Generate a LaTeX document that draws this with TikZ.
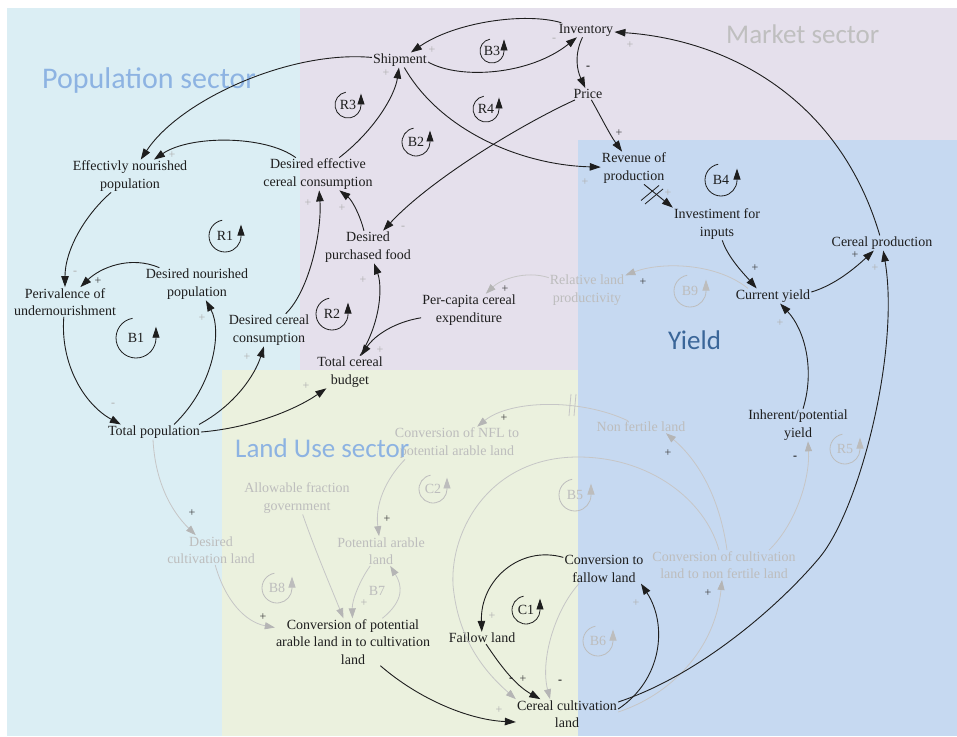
\documentclass[tikz,border=0pt]{standalone}
\usepackage{fontspec}
\setmainfont{Liberation Serif}
\newfontfamily\serifA{Liberation Serif}
\newfontfamily\calib{Carlito}
\usetikzlibrary{arrows.meta}
\definecolor{popbg}{HTML}{DBEEF4}
\definecolor{mktbg}{HTML}{E5E0EC}
\definecolor{landbg}{HTML}{EBF1DE}
\definecolor{yldbg}{HTML}{C6D9F1}
\definecolor{popt}{HTML}{8DB3E2}
\definecolor{mktt}{HTML}{BFBFBF}
\definecolor{yldt}{HTML}{3A6699}
\definecolor{ink}{HTML}{1E1E1E}
\definecolor{fade}{HTML}{BDBDBD}
\definecolor{fadeline}{HTML}{C6C6C6}
\definecolor{fadehead}{HTML}{B5B5B5}
\definecolor{signg}{HTML}{B0B0B0}
\definecolor{signk}{HTML}{3C3C3C}
\tikzset{
 var/.style={font=\serifA\fontsize{14}{17.5}\selectfont, text=ink, align=center, inner sep=1pt},
 fvar/.style={var, text=fade},
 link/.style={draw=ink, line width=0.9pt, -{Triangle[length=11pt,width=7.5pt,color=ink,fill=ink]}},
 glink/.style={draw=fadeline, line width=0.8pt, -{Triangle[length=10pt,width=7pt,color=fadehead,fill=fadehead]}},
 sect/.style={font=\calib\fontsize{27}{30}\selectfont, anchor=base west, inner sep=0pt},
 sgn/.style={font=\serifA\fontsize{12}{12}\selectfont, inner sep=0pt},
 looptext/.style={font=\serifA\fontsize{14}{14}\selectfont, inner sep=0pt},
 delaymark/.style={line width=0.8pt},
}
\newcommand{\LoopMk}[6]{%
  \node[looptext,text=#6] (#1) at (#2,#3) {#5};
  \draw[draw=#6, line width=0.8pt, -{Triangle[length=11pt,width=7pt,color=#6,fill=#6]}] ([shift={(-100:#4)}]#2,#3) arc[start angle=-100,end angle=-358,radius=#4] -- ++(0,-12);
}
\begin{document}
\begin{tikzpicture}[x=1pt,y=-1pt]
\useasboundingbox (0,0) rectangle (957,736);
\fill[white] (0,0) rectangle (957,736);
% sector backgrounds
\fill[popbg] (7,8) rectangle (300,736);
\fill[mktbg] (300,8) rectangle (957,140);
\fill[mktbg] (300,140) rectangle (578,370);
\fill[landbg] (222,370) rectangle (578,736);
\fill[yldbg] (578,140) rectangle (957,736);

% faded variables
\node[fvar] (rlp) at (587,290) {Relative land\\productivity};
\node[fvar] (nfl2pal) at (457,443) {Conversion of NFL to\\potential arable land};
\node[fvar] (nfl) at (641,427) {Non fertile land};
\node[fvar] (afg) at (297,498) {Allowable fraction\\government};
\node[fvar] (pal) at (381,551) {Potential arable\\land};
\node[fvar] (dcl) at (211,550) {Desired\\cultivation land};
\node[fvar] (ccl2nfl) at (724,565) {Conversion of cultivation\\land to non fertile land};

% sector labels
\node[sect, text=popt, font=\calib\fontsize{30}{32}\selectfont] (lpop) at (42,88) {Population sector};
\node[sect, text=mktt] (lmkt) at (726,43) {Market sector};
\node[sect, text=yldt] (lyld) at (668,349) {Yield};
\node[sect, text=popt] (lland) at (235,457) {Land Use sector};

% main variables
\node[var] (inv) at (586,30) {Inventory};
\node[var] (ship) at (400,60) {Shipment};
\node[var] (price) at (588,94) {Price};
\node[var] (rev) at (634,168) {Revenue of\\production};
\node[var] (invest) at (717,224) {Investiment for\\inputs};
\node[var] (cprod) at (882,243) {Cereal production};
\node[var] (cyield) at (773,296) {Current yield};
\node[var] (inh) at (798,425) {Inherent/potential\\yield};
\node[var] (enp) at (130,176) {Effectivly nourished\\population};
\node[var] (decc) at (318,174) {Desired effective\\cereal consumption};
\node[var] (dpf) at (368,247) {Desired\\purchased food};
\node[var] (dnp) at (197,284) {Desired nourished\\population};
\node[var] (pou) at (65,302) {Perivalence of\\undernourishment};
\node[var] (dcc) at (269,330) {Desired cereal\\consumption};
\node[var] (pcce) at (469,310) {Per-capita cereal\\expenditure};
\node[var] (tcb) at (350,372) {Total cereal\\budget};
\node[var] (tpop) at (154,432) {Total population};
\node[var] (ctf) at (604,569) {Conversion to\\fallow land};
\node[var] (fallow) at (482,638) {Fallow land};
\node[var] (cpal) at (353,642) {Conversion of potential\\arable land in to cultivation\\land};
\node[var] (ccl) at (567,714) {Cereal cultivation\\land};

% faded links
\draw[glink] ([xshift=-1pt]tpop.south) .. controls (155,480) and (170,510) .. (dcl);
\draw[glink] (dcl) .. controls (225,600) and (245,622) .. (cpal);
\draw[glink] (afg) .. controls (315,550) and (330,585) .. (cpal);
\draw[glink] (pal) .. controls (360,580) and (352,600) .. (cpal);
\draw[glink] (cpal) .. controls (405,600) and (402,585) .. (pal);
\draw[glink] ([xshift=-52pt]nfl2pal.south) .. controls (385,480) and (375,505) .. (pal);
\draw[glink] (nfl) .. controls (580,398) and (510,400) .. (nfl2pal);
\draw[draw=fadeline, delaymark] (571,394) -- (569,416);
\draw[draw=fadeline, delaymark] (576,394) -- (574,416);
\draw[glink] ([xshift=3pt]ccl2nfl.north) .. controls (720,500) and (700,462) .. ([xshift=25pt]nfl.south);
\draw[glink] ([xshift=45pt]ccl2nfl.north) .. controls (795,525) and (810,480) .. ([xshift=10pt]inh.south);
\coordinate (b5top) at (578,457);
\coordinate (b5left) at (453,585);
\draw[glink] ([xshift=-5pt]ccl2nfl.north) .. controls (705,500) and (650,457) .. (b5top)
   .. controls (490,457) and (450,530) .. (b5left) .. controls (458,640) and (485,672) .. (ccl.north west);
\draw[glink] ([yshift=2pt]ccl.east) .. controls (670,695) and (715,650) .. ([xshift=-2pt]ccl2nfl.south);
\draw[glink] ([xshift=-25pt]ctf.south) .. controls (555,610) and (540,660) .. ([xshift=-17pt]ccl.north);
\draw[glink] ([xshift=-25pt]cyield.north) .. controls (715,262) and (660,262) .. (rlp);
\draw[glink] (rlp) .. controls (525,270) and (500,280) .. (pcce);

% main links
\draw[link] (inv) .. controls (525,12) and (455,22) .. (ship);
\draw[link] ([yshift=-2pt]ship.east) .. controls (460,80) and (530,75) .. (inv);
\draw[link] (inv) .. controls (574,55) and (577,70) .. (price);
\draw[link] (cprod) .. controls (840,100) and (730,40) .. (inv);
\draw[link] (ship) .. controls (290,50) and (180,100) .. (enp);
\draw[link] (decc) .. controls (265,135) and (190,135) .. (enp);
\draw[link] (decc) .. controls (375,130) and (395,95) .. (ship);
\draw[link] (ship) .. controls (440,130) and (520,165) .. (rev);
\draw[link] (price) .. controls (600,115) and (610,135) .. (rev);
\draw[link] (price) .. controls (520,125) and (430,180) .. (dpf);
\draw[link] (dpf) .. controls (360,215) and (352,200) .. (decc);
\draw[link] (dcc) .. controls (310,290) and (322,230) .. (decc);
\draw[link] ([xshift=20pt]tpop.north) .. controls (215,385) and (222,330) .. (dnp);
\draw[link] ([xshift=45pt]tpop.north) .. controls (235,405) and (255,375) .. (dcc);
\draw[link] (tpop.east) .. controls (250,428) and (295,410) .. (tcb);
\draw[link] (dnp) .. controls (130,255) and (100,268) .. (pou);
\draw[link] (enp) .. controls (85,215) and (65,250) .. (pou);
\draw[link] (pou) .. controls (60,365) and (85,405) .. ([xshift=14pt]tpop.north west);
\draw[link] (pcce) .. controls (395,322) and (375,335) .. (tcb);
\draw[link] (tcb) .. controls (382,320) and (382,285) .. (dpf);
\draw[link] ([xshift=10pt]rev.south) -- (invest.north west);
\draw[draw=ink, delaymark] (641,200.5) -- (659,185.5);
\draw[draw=ink, delaymark] (645,204) -- (663,189);
\draw[link] (invest) .. controls (728,258) and (745,275) .. ([xshift=22pt]cyield.north west);
\draw[link] ([yshift=4pt]cyield.east) .. controls (835,285) and (855,268) .. (cprod);
\draw[link] (inh) .. controls (815,370) and (805,330) .. (cyield);
\coordinate (cpmid) at (820,557);
\draw[link] ([yshift=12pt]ccl.east) .. controls (700,675) and (780,605) .. (cpmid)
   .. controls (860,508) and (900,350) .. (cprod);
\draw[link] ([yshift=5pt]ccl.east) .. controls (662,680) and (668,625) .. ([xshift=37pt]ctf.south);
\draw[link] (ctf) .. controls (520,545) and (480,580) .. (fallow);
\draw[link] (fallow) .. controls (500,665) and (515,685) .. (ccl);
\draw[link] (cpal) .. controls (420,700) and (470,720) .. ([yshift=-8pt]ccl.west);

% polarity signs
\node[sgn,text=signg] (g1) at (172,155) {+};
\node[sgn,text=signg] (g2) at (308,203) {+};
\node[sgn,text=signg] (g3) at (342,208) {+};
\node[sgn,text=signg] (g4) at (432,50) {+};
\node[sgn,text=signg] (g5) at (386,73) {+};
\node[sgn,text=signg] (g6) at (630,45) {+};
\node[sgn,text=signg] (g7) at (585,182) {+};
\node[sgn,text=signg] (g8) at (668,193) {+};
\node[sgn,text=signg] (g9) at (202,318) {+};
\node[sgn,text=signg] (g10) at (247,357) {+};
\node[sgn,text=signg] (g11) at (306,386) {+};
\node[sgn,text=signg] (g12) at (363,280) {+};
\node[sgn,text=signg] (g13) at (380,350) {+};
\node[sgn,text=signg] (g14) at (875,268) {+};
\node[sgn,text=signg] (g15) at (780,323) {+};
\node[sgn,text=signg] (g16) at (364,603) {+};
\node[sgn,text=signg] (g17) at (499,710) {+};
\node[sgn,text=signg] (g18) at (636,603) {+};
\node[sgn,text=signg] (g19) at (492,616) {+};
\node[sgn,text=signg] (m1) at (554,40) {-};
\node[sgn,text=signg] (m2) at (75,273) {-};
\node[sgn,text=signg] (m3) at (113,405) {-};
\node[sgn,text=signg] (m4) at (403,228) {-};
\node[sgn,text=signk] (k1) at (98,281) {+};
\node[sgn,text=signk] (k2) at (619,133) {+};
\node[sgn,text=signk] (k3) at (505,289) {+};
\node[sgn,text=signk] (k4) at (504,418) {+};
\node[sgn,text=signk] (k5) at (755,268) {+};
\node[sgn,text=signk] (k6) at (643,282) {+};
\node[sgn,text=signk] (k7) at (855,255) {+};
\node[sgn,text=signk] (k8) at (668,453) {+};
\node[sgn,text=signk] (k9) at (192,513) {+};
\node[sgn,text=signk] (k10) at (263,617) {+};
\node[sgn,text=signk] (k11) at (387,519) {+};
\node[sgn,text=signk] (k12) at (523,679) {+};
\node[sgn,text=signk] (k13) at (708,593) {+};
\node[sgn,text=ink,font=\serifA\bfseries\fontsize{12}{12}\selectfont] (n1) at (588,68) {-};
\node[sgn,text=ink,font=\serifA\bfseries\fontsize{12}{12}\selectfont] (n2) at (795,458) {-};
\node[sgn,text=ink,font=\serifA\bfseries\fontsize{12}{12}\selectfont] (n3) at (511,680) {-};
\node[sgn,text=ink,font=\serifA\bfseries\fontsize{12}{12}\selectfont] (n4) at (560,682) {-};

% loop markers
\LoopMk{R1}{225}{236}{16}{R1}{ink}
\LoopMk{B1}{136}{338}{20}{B1}{ink}
\LoopMk{R2}{332}{314}{16}{R2}{ink}
\LoopMk{R3}{348}{105}{13}{R3}{ink}
\LoopMk{B2}{416}{142}{14}{B2}{ink}
\LoopMk{B3}{492}{51}{12}{B3}{ink}
\LoopMk{R4}{486}{109}{13}{R4}{ink}
\LoopMk{B4}{721}{180}{16}{B4}{ink}
\LoopMk{C1}{526}{610}{14}{C1}{ink}
\LoopMk{B9}{690}{291}{16}{B9}{fade}
\LoopMk{C2}{433}{489}{14}{C2}{fade}
\LoopMk{B5}{575}{495}{16}{B5}{fade}
\LoopMk{R5}{845}{449}{15}{R5}{fade}
\LoopMk{B8}{277}{588}{15}{B8}{fade}
\LoopMk{B6}{598}{641}{15}{B6}{fade}
\node[looptext,text=fade] (B7) at (377,591) {B7};
\end{tikzpicture}
\end{document}
